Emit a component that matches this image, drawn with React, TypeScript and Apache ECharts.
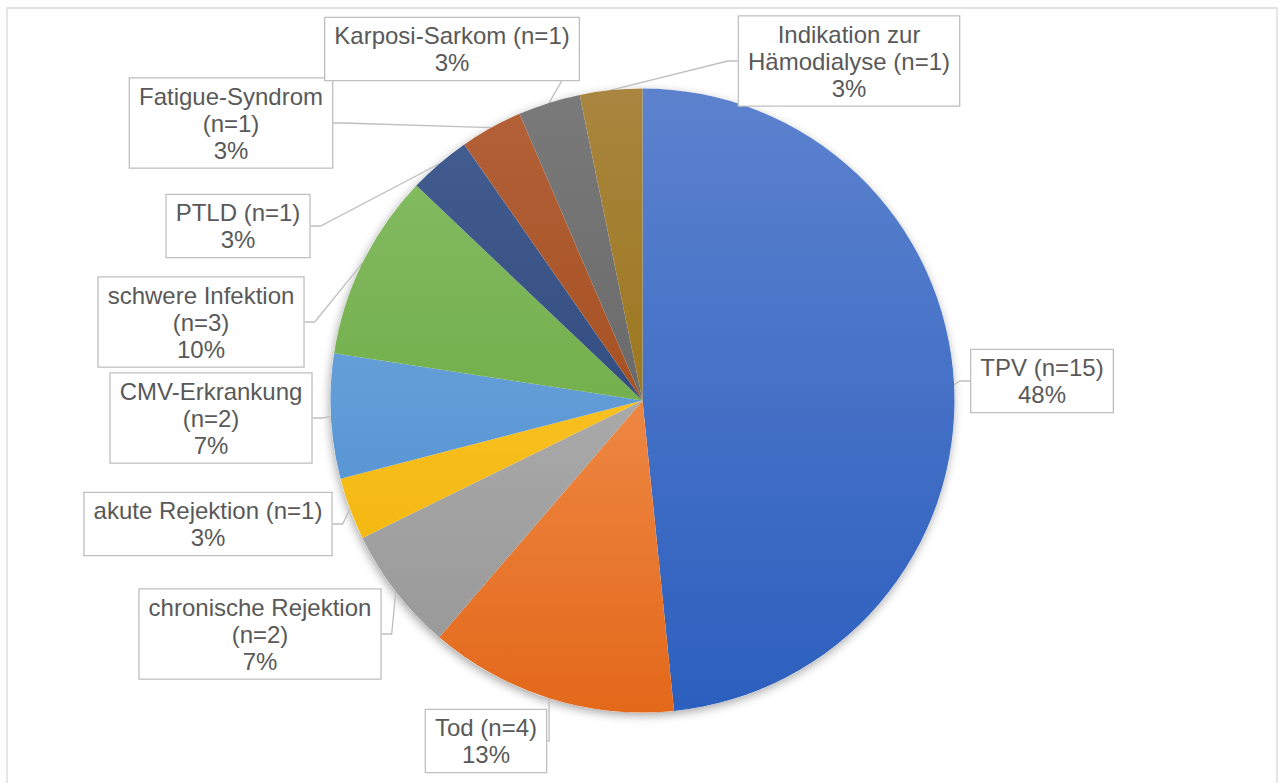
import React, { useEffect, useRef } from "react";
import * as echarts from "echarts";

// ---- data ----
const categories = [
  "TPV",
  "Tod",
  "chronische Rejektion",
  "akute Rejektion",
  "CMV-Erkrankung",
  "schwere Infektion",
  "PTLD",
  "Fatigue-Syndrom",
  "Karposi-Sarkom",
  "Indikation zur Hämodialyse",
];
const counts = [15, 4, 2, 1, 2, 3, 1, 1, 1, 1];

// ---- label text wrapping (display only) ----
const labelNameLines = [
  "TPV",
  "Tod",
  "chronische Rejektion",
  "akute Rejektion",
  "CMV-Erkrankung",
  "schwere Infektion",
  "PTLD",
  "Fatigue-Syndrom",
  "Karposi-Sarkom",
  "Indikation zur\nHämodialyse",
];
const countOnNewLine = [false, false, true, false, true, true, false, true, false, false];

// ---- styling / layout ----
const colorTop = ["#5c82ce", "#f8a66c", "#bdbdbd", "#ffcf40", "#7db0e0", "#88be68", "#465f92", "#b4613a", "#7a7a7a", "#a9853f"];
const colorBottom = ["#2c5fbe", "#e3681a", "#959595", "#f0b000", "#4487cd", "#60a232", "#1f3c70", "#98420a", "#5a5a5a", "#8f6b00"];
const labelCenters: [number, number][] = [
  [1042, 381],
  [486, 741],
  [260, 634],
  [208, 524],
  [211, 418],
  [201, 322],
  [238, 226],
  [231, 123],
  [452, 49],
  [849, 61],
];

const CX = 642.5;
const CY = 400.5;
const R = 312;

export default function App() {
  const ref = useRef<HTMLDivElement>(null);
  useEffect(() => {
    if (!ref.current) return;
    const chart = echarts.init(ref.current, undefined, { renderer: "svg" });
    const data = categories.map((name, i) => ({
      name,
      value: counts[i],
      itemStyle: {
        color: new echarts.graphic.LinearGradient(
          0, CY - R, 0, CY + R,
          [
            { offset: 0, color: colorTop[i] },
            { offset: 1, color: colorBottom[i] },
          ],
          true
        ),
      },
    }));
    chart.setOption({
      animation: false,
      backgroundColor: "#ffffff",
      graphic: [
        {
          type: "rect",
          shape: { x: 7, y: 8, width: 1270, height: 790 },
          style: { fill: "none", stroke: "#d9d9d9", lineWidth: 1.3 },
          silent: true,
          z: 0,
        },
      ],
      series: [
        {
          type: "pie",
          silent: true,
          center: [CX, CY],
          radius: R,
          startAngle: 90,
          clockwise: true,
          z: 1,
          label: { show: false },
          labelLine: { show: false },
          itemStyle: {
            color: "#ffffff",
            shadowBlur: 10,
            shadowColor: "rgba(0,0,0,0.35)",
            shadowOffsetX: -1,
            shadowOffsetY: 3,
          },
          data: [{ name: "shadow", value: 1 }],
        },
        {
          type: "pie",
          center: [CX, CY],
          radius: R,
          startAngle: 90,
          clockwise: true,
          percentPrecision: 0,
          avoidLabelOverlap: false,
          z: 2,
          data,
          label: {
            show: true,
            position: "outside",
            fontFamily: "Liberation Sans, Arial, sans-serif",
            fontSize: 24,
            lineHeight: 27,
            color: "#595959",
            align: "center",
            backgroundColor: "#ffffff",
            borderColor: "#bfbfbf",
            borderWidth: 1.3,
            padding: [4, 9, 4, 9],
            formatter: (p: any) => {
              const i = p.dataIndex;
              const sep = countOnNewLine[i] ? "\n" : " ";
              return `${labelNameLines[i]}${sep}(n=${p.value})\n${p.percent}%`;
            },
          },
          labelLine: {
            show: true,
            length: 20,
            length2: 10,
            lineStyle: { color: "#bfbfbf", width: 1.3 },
          },
          labelLayout: (params: any) => {
            const c = labelCenters[params.dataIndex];
            return {
              x: c[0],
              y: c[1],
              align: "center",
              verticalAlign: "middle",
              hideOverlap: false,
            };
          },
        },
      ],
    });
    return () => chart.dispose();
  }, []);
  return (
    <div
      ref={ref}
      style={{ position: "fixed", left: 0, top: 0, width: 1279, height: 783 }}
    />
  );
}
